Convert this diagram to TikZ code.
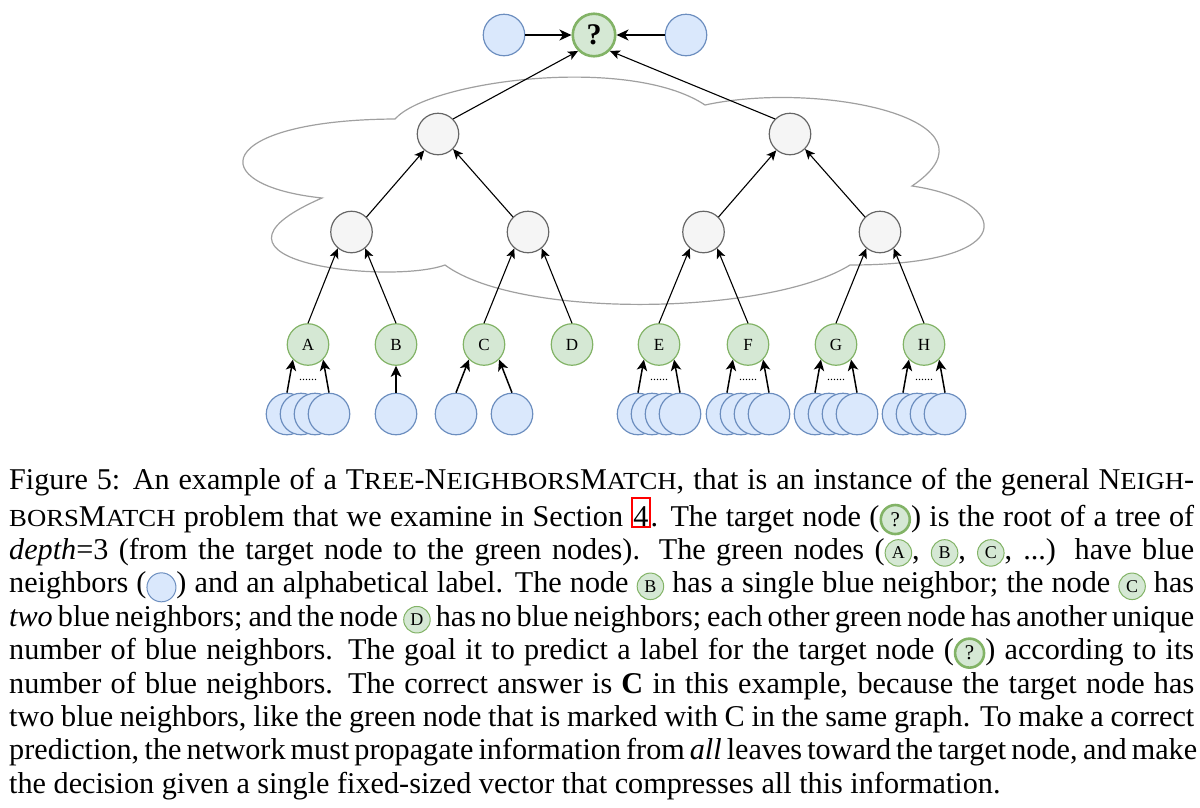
\documentclass[tikz,border=0pt]{standalone}
\usepackage{fontspec}
\usepackage{graphicx}
\setmainfont{Liberation Serif}
\usetikzlibrary{arrows.meta,shapes.geometric}
\definecolor{gfill}{HTML}{D5E8D4}
\definecolor{gline}{HTML}{82B366}
\definecolor{bfill}{HTML}{DAE8FC}
\definecolor{bline}{HTML}{6C8EBF}
\definecolor{wfill}{HTML}{F5F5F5}
\definecolor{wline}{HTML}{666666}
\definecolor{cline}{HTML}{A0A0A0}
\tikzset{
  gnode/.style={circle, minimum size=41.5pt, inner sep=0pt, draw=gline, fill=gfill, line width=1.2pt, font=\fontsize{17}{17}\selectfont},
  bnode/.style={circle, minimum size=41.5pt, inner sep=0pt, draw=bline, fill=bfill, line width=1.2pt},
  wnode/.style={circle, minimum size=41.5pt, inner sep=0pt, draw=wline, fill=wfill, line width=1.2pt},
  tnode/.style={circle, minimum size=42.5pt, inner sep=0pt, draw=gline, fill=gfill, line width=2.6pt, font=\fontsize{30}{30}\selectfont\bfseries},
  cloudst/.style={draw=cline, line width=1.2pt, fill=white},
  toparr/.style={-{Stealth[length=12pt,width=11pt,inset=3.5pt]}, line width=1.3pt},
  treearr/.style={-{Stealth[length=10pt,width=9pt,inset=2.5pt]}, line width=1.1pt},
  leafarr/.style={-{Stealth[length=11pt,width=10.5pt,inset=3pt]}, line width=1.5pt},
  dotsst/.style={anchor=base, inner sep=0pt, font=\fontsize{12}{12}\selectfont},
  inlg/.style={circle, anchor=center, minimum size=26.5pt, inner sep=0pt, draw=gline, fill=gfill, line width=1pt, font=\fontsize{18}{18}\selectfont},
  inlq/.style={circle, anchor=center, minimum size=29pt, inner sep=0pt, draw=gline, fill=gfill, line width=2.6pt, font=\fontsize{21}{21}\selectfont},
  inlb/.style={circle, anchor=center, minimum size=29pt, inner sep=0pt, draw=bline, fill=bfill, line width=1pt}
}
\newcommand\mysc[1]{\scalebox{1.09}[1]{\fontsize{24.5}{33.4}\selectfont #1}}
\newcommand\redbox[1]{{\setlength\fboxsep{0pt}\setlength\fboxrule{2pt}\color{red}\fbox{\color{black}\rule{0pt}{27.5pt}#1}}}
\newcommand\ig[2]{\tikz[baseline=-6.5pt]\node[inlg] (#1) at (0,0) {#2};}
\newcommand\iq[1]{\tikz[baseline=-6.5pt]\node[inlq] (#1) at (0,0) {?};}
\newcommand\ib[1]{\tikz[baseline=-5.5pt]\node[inlb] (#1) at (0,0) {};}
\begin{document}
\begin{tikzpicture}[x=1pt,y=-1pt]
\useasboundingbox (0,0) rectangle (1200,807);
% cloud
\draw[cloudst] (395,119) .. controls (430,80) and (630,55) .. (705,105)
  .. controls (820,80) and (1010,120) .. (912,186)
  .. controls (1010,200) and (1025,265) .. (850,265)
  .. controls (770,315) and (520,320) .. (445,265)
  .. controls (390,285) and (175,262) .. (322,198)
  .. controls (200,185) and (215,120) .. (395,119) -- cycle;
% top
\node[tnode] (T) at (594,35) {?};
\node[bnode] (TL) at (504,35) {};
\node[bnode] (TR) at (686,35) {};
\draw[toparr] (TL) -- (T);
\draw[toparr] (TR) -- (T);
% inner tree
\node[wnode] (L1a) at (438,134) {};
\node[wnode] (L1b) at (790,134) {};
\node[wnode] (L2a) at (351.5,232) {};
\node[wnode] (L2b) at (528,232) {};
\node[wnode] (L2c) at (703.5,232) {};
\node[wnode] (L2d) at (880,232) {};
\draw[treearr] (L1a.45) -- (T.225);
\draw[treearr] (L1b.135) -- (T.315);
\draw[treearr] (L2a.45) -- (L1a.230);
\draw[treearr] (L2b.135) -- (L1a.315);
\draw[treearr] (L2c.45) -- (L1b.230);
\draw[treearr] (L2d.135) -- (L1b.315);
% green nodes
\node[gnode] (A) at (308,344.5) {A};
\node[gnode] (B) at (396,344.5) {B};
\node[gnode] (C) at (484,344.5) {C};
\node[gnode] (D) at (572,344.5) {D};
\node[gnode] (E) at (659,344.5) {E};
\node[gnode] (F) at (748,344.5) {F};
\node[gnode] (G) at (836,344.5) {G};
\node[gnode] (H) at (924,344.5) {H};
\draw[treearr] (A.north) -- (L2a.230);
\draw[treearr] (B.north) -- (L2a.310);
\draw[treearr] (C.north) -- (L2b.230);
\draw[treearr] (D.north) -- (L2b.310);
\draw[treearr] (E.north) -- (L2c.230);
\draw[treearr] (F.north) -- (L2c.310);
\draw[treearr] (G.north) -- (L2d.230);
\draw[treearr] (H.north) -- (L2d.310);
% leaves
\foreach \g in {A,E,F,G,H}{
  \path (\g) ++(-21,69.5) node[bnode] (\g1) {};
  \path (\g) ++(-7,69.5) node[bnode] (\g2) {};
  \path (\g) ++(7,69.5) node[bnode] (\g3) {};
  \path (\g) ++(21,69.5) node[bnode] (\g4) {};
  \draw[leafarr] (\g1.north) -- (\g.225);
  \draw[leafarr] (\g4.north) -- (\g.315);
  \path (\g) ++(0,36) node[dotsst] (\g dots) {......};
}
\node[bnode] (B1) at (396,414) {};
\draw[leafarr] (B1) -- (B);
\node[bnode] (C1) at (456,414) {};
\node[bnode] (C2) at (512,414) {};
\draw[leafarr] (C1.north) -- (C.225);
\draw[leafarr] (C2.north) -- (C.315);
% caption
\node[anchor=base west, inner sep=0pt] (cap) at (9,489) {\parbox[t]{1185pt}{\fontsize{30.2}{33.4}\selectfont
\hbox to \hsize{Figure 5: An example of a T\mysc{REE}-N\mysc{EIGHBORS}M\mysc{ATCH}, that is an instance of the general N\mysc{EIGH}-}
\hbox to \hsize{\mysc{BORS}M\mysc{ATCH} problem that we examine in Section \redbox{4}. The target node (\iq{q1}) is the root of a tree of}
\hbox to \hsize{\textit{depth}=3 (from the target node to the green nodes). The green nodes (\ig{ia}{A}, \ig{ib1}{B}, \ig{ic1}{C}, ...) have blue}
\hbox to \hsize{neighbors (\ib{iblue}) and an alphabetical label. The node \ig{ib2}{B} has a single blue neighbor; the node \ig{ic2}{C} has}
\hbox to \hsize{\textit{two} blue neighbors; and the node \ig{id}{D} has no blue neighbors; each other green node has another unique}
\hbox to \hsize{number of blue neighbors. The goal it to predict a label for the target node (\iq{q2}) according to its}
\hbox to \hsize{number of blue neighbors. The correct answer is \textbf{C} in this example, because the target node has}
\hbox to \hsize{two blue neighbors, like the green node that is marked with C in the same graph. To make a correct}
\hbox to \hsize{prediction, the network must propagate information from \textit{all} leaves toward the target node, and make}
\hbox{the decision given a single fixed-sized vector that compresses all this information.}
}};
\end{tikzpicture}
\end{document}
